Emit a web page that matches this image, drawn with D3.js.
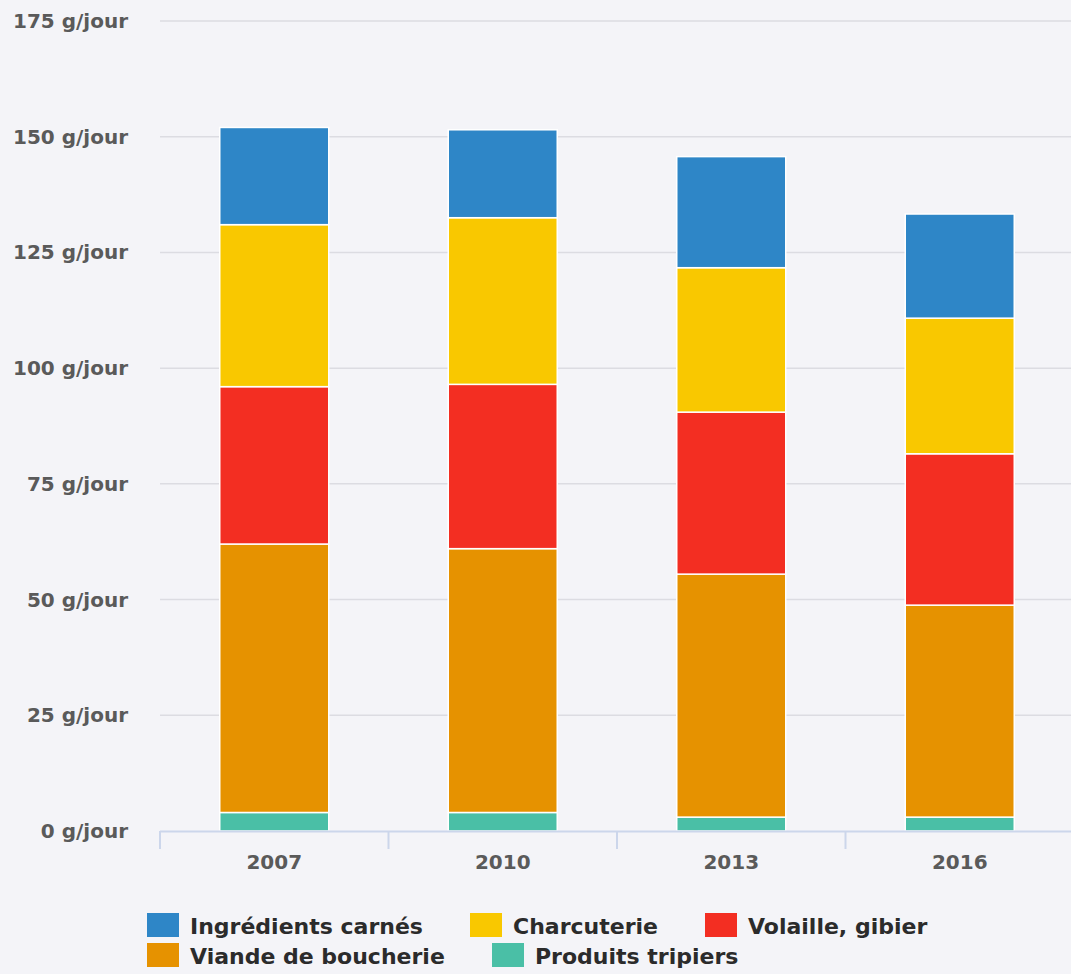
<!DOCTYPE html>
<html>
<head>
<meta charset="utf-8">
<script src="https://cdn.jsdelivr.net/npm/d3@7"></script>
<style>
  html, body { margin: 0; padding: 0; background: #f4f4f8; }
  svg { display: block; }
  .tick-label { font-family: "DejaVu Sans", sans-serif; font-weight: 700; fill: #5a5a5a; }
  .legend-text { font-family: "DejaVu Sans", sans-serif; font-weight: 700; fill: #2b2b2b; }
</style>
</head>
<body>
<div id="chart"></div>
<script>
const Years = ["2007", "2010", "2013", "2016"];

const SeriesNames = ["Produits tripiers", "Viande de boucherie", "Volaille, gibier", "Charcuterie", "Ingrédients carnés"];
const SeriesColors = ["#4abfa6", "#e69200", "#f32e22", "#f9c800", "#2e86c7"];

const Tripiers    = [4, 4, 3, 3];
const Boucherie   = [58, 57, 52.5, 45.8];
const Volaille    = [34, 35.5, 35, 32.7];
const Charcuterie = [35, 36, 31.2, 29.3];
const Ingredients = [21, 19, 24, 22.5];

const YTicks = [0, 25, 50, 75, 100, 125, 150, 175];

// legend order as shown under the chart
const LegendOrder = [4, 3, 2, 1, 0];

const chartWidth = 1071, chartHeight = 974;
const plotLeft = 160, plotRight = 1074, plotTop = 21, plotBottom = 831;

const rows = Years.map((yr, i) => ({
    year: yr,
    s0: Tripiers[i], s1: Boucherie[i], s2: Volaille[i], s3: Charcuterie[i], s4: Ingredients[i]
}));
const keys = ["s0", "s1", "s2", "s3", "s4"];
const stacked = d3.stack().keys(keys)(rows);

const svg = d3.select("#chart").append("svg")
    .attr("width", chartWidth)
    .attr("height", chartHeight);

const y = d3.scaleLinear().domain([0, 175]).range([plotBottom, plotTop]);
const x = d3.scaleBand().domain(Years).range([plotLeft, plotRight])
    .paddingInner(0.523).paddingOuter(0.2615);
const slot = d3.scaleBand().domain(Years).range([plotLeft, plotRight]).padding(0);

// gridlines
svg.append("g").selectAll("line")
    .data(YTicks.filter(d => d > 0))
    .enter().append("line")
        .attr("x1", plotLeft).attr("x2", chartWidth)
        .attr("y1", d => y(d)).attr("y2", d => y(d))
        .attr("stroke", "#dcdce2")
        .attr("stroke-width", 1.5);

// y labels
svg.append("g").selectAll("text")
    .data(YTicks)
    .enter().append("text")
        .attr("class", "tick-label")
        .attr("x", 128)
        .attr("y", d => y(d))
        .attr("dy", "0.35em")
        .attr("text-anchor", "end")
        .attr("font-size", 20)
        .text(d => d + " g/jour");

// bars
svg.append("g").selectAll("g")
    .data(stacked)
    .enter().append("g")
        .attr("fill", (d, i) => SeriesColors[i])
    .selectAll("rect")
    .data(d => d)
    .enter().append("rect")
        .attr("x", d => x(d.data.year))
        .attr("width", x.bandwidth())
        .attr("y", d => y(d[1]))
        .attr("height", d => y(d[0]) - y(d[1]))
        .attr("stroke", "#ffffff")
        .attr("stroke-width", 1.5);

// x axis line and ticks
svg.append("line")
    .attr("x1", plotLeft).attr("x2", chartWidth)
    .attr("y1", plotBottom + 0.5).attr("y2", plotBottom + 0.5)
    .attr("stroke", "#ccd6eb").attr("stroke-width", 2);

const tickPos = Years.map(d => slot(d)).concat([slot(Years[3]) + slot.bandwidth()]);
svg.append("g").selectAll("line")
    .data(tickPos)
    .enter().append("line")
        .attr("x1", d => d).attr("x2", d => d)
        .attr("y1", plotBottom).attr("y2", plotBottom + 18)
        .attr("stroke", "#ccd6eb").attr("stroke-width", 2);

svg.append("g").selectAll("text")
    .data(Years)
    .enter().append("text")
        .attr("class", "tick-label")
        .attr("x", d => x(d) + x.bandwidth() / 2)
        .attr("y", 869)
        .attr("text-anchor", "middle")
        .attr("font-size", 20)
        .text(d => d);

// legend
const legendPos = [
    { x: 147, y: 913 }, { x: 470, y: 913 }, { x: 705, y: 913 },
    { x: 147, y: 943 }, { x: 492, y: 943 }
];
const legend = svg.append("g").selectAll("g")
    .data(LegendOrder)
    .enter().append("g")
        .attr("transform", (d, i) => `translate(${legendPos[i].x},${legendPos[i].y})`);

legend.append("rect")
    .attr("width", 32).attr("height", 24)
    .attr("fill", d => SeriesColors[d]);

legend.append("text")
    .attr("class", "legend-text")
    .attr("x", 43)
    .attr("y", 21)
    .attr("font-size", 22)
    .text(d => SeriesNames[d]);
</script>
</body>
</html>
